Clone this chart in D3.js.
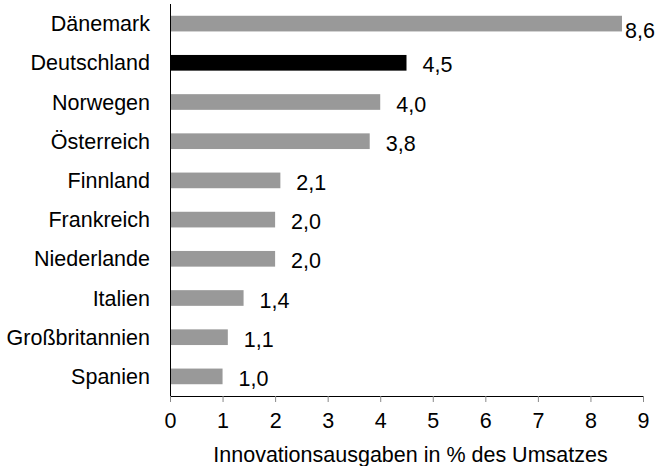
<!DOCTYPE html>
<html><head><meta charset="utf-8">
<script src="https://cdn.jsdelivr.net/npm/d3@7"></script>
<style>body{margin:0;background:#fff}svg{display:block}text{font-family:"Liberation Sans",Arial,sans-serif}</style>
</head><body>
<script>
const categories = ["Dänemark","Deutschland","Norwegen","Österreich","Finnland","Frankreich","Niederlande","Italien","Großbritannien","Spanien"];
const values = [8.6,4.5,4.0,3.8,2.1,2.0,2.0,1.4,1.1,1.0];
const highlight = ["Deutschland"];
const xTicks = [0,1,2,3,4,5,6,7,8,9];
const xTitle = "Innovationsausgaben in % des Umsatzes";

const W = 669, H = 466;
const m = {left:170, right:26, top:4, bottom:70};
const svg = d3.select("body").append("svg").attr("width",W).attr("height",H);
const x = d3.scaleLinear().domain([0,9]).range([m.left, W-m.right]);
const y = d3.scaleBand().domain(categories).range([m.top, H-m.bottom]).paddingInner(0.6).paddingOuter(0.3);
const fmt = v => d3.format(".1f")(v).replace(".", ",");
const fs = 21.5;

svg.selectAll("rect.bar").data(categories).join("rect")
  .attr("x", x(0)).attr("y", d=>y(d))
  .attr("width", (d,i)=>x(values[i])-x(0)).attr("height", y.bandwidth())
  .attr("fill", d=>highlight.includes(d)?"#000":"#999");

// x axis
const gx = svg.append("g").attr("transform",`translate(0,${H-m.bottom})`)
  .call(d3.axisBottom(x).tickValues(xTicks).tickSize(6).tickSizeOuter(0).tickPadding(11));
gx.select(".domain").attr("stroke","#000");
gx.selectAll(".tick line").attr("stroke","#888");
gx.selectAll(".tick text").attr("font-size",fs).attr("fill","#000").style("font-family","Liberation Sans, Arial, sans-serif");

// y axis line
svg.append("line").attr("x1",x(0)+0.5).attr("x2",x(0)+0.5).attr("y1",m.top).attr("y2",H-m.bottom).attr("stroke","#000");

// category labels
svg.selectAll("text.cat").data(categories).join("text")
  .attr("class","cat").attr("x", x(0)-20).attr("y", d=>y(d)+y.bandwidth()/2)
  .attr("dy","0.35em").attr("text-anchor","end").attr("font-size",fs).attr("fill","#000").text(d=>d);

// value labels
svg.selectAll("text.val").data(categories).join("text")
  .attr("class","val")
  .each(function(d,i){
    const v = values[i];
    const t = d3.select(this).attr("font-size",fs).attr("fill","#000").text(fmt(v));
    let xx = x(v)+16, yy = y(d)+y.bandwidth()/2+2;
    const w = this.getComputedTextLength();
    if (xx + w > W - 8) { xx = x(v)+3; yy += 5; }
    t.attr("x",xx).attr("y",yy).attr("dy","0.35em");
  });

svg.append("text").attr("x",(x(0)+x(9))/2+4).attr("y",H-4.5).attr("text-anchor","middle")
  .attr("font-size",fs).attr("fill","#000").text(xTitle);
</script>
</body></html>
